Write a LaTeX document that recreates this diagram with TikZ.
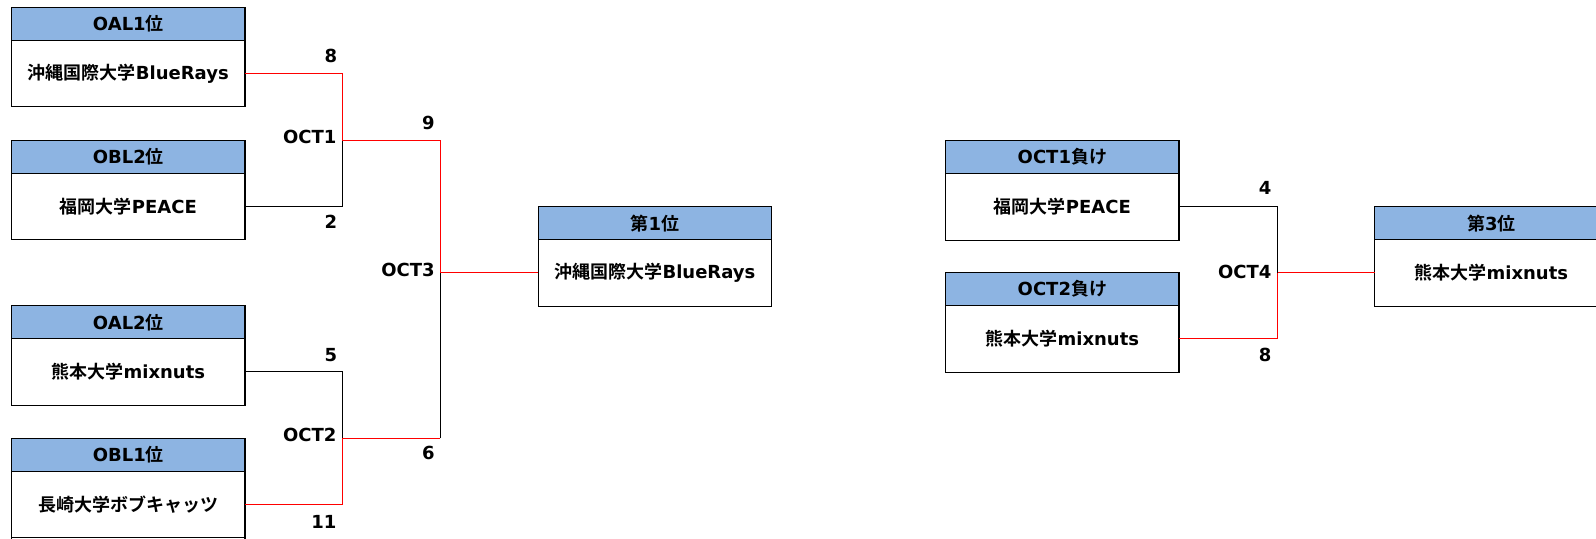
\documentclass[tikz,border=0pt]{standalone}
\usepackage{fontspec}
\setmainfont{DejaVu Sans}
\newfontfamily\jp{Noto Sans CJK JP}[BoldFont={Noto Sans CJK JP Bold}]
\definecolor{hdrblue}{HTML}{8DB4E2}
\begin{document}
\begin{tikzpicture}[x=0.75pt,y=-0.75pt,
  font=\fontsize{13.5}{16}\selectfont\bfseries,
  hdr/.style={draw,line width=0.9pt,fill=hdrblue,minimum width=175pt,minimum height=24.75pt,inner sep=0pt,outer sep=0pt,anchor=north west},
  bdy/.style={draw,line width=0.9pt,fill=white,minimum width=175pt,minimum height=49.8pt,inner sep=0pt,outer sep=0pt,anchor=north},
  ln/.style={line width=0.75pt,draw=black},
  win/.style={line width=0.75pt,draw=red},
  lbl/.style={anchor=east,inner sep=0pt}]
\clip (0,0) rectangle (1596,539);
\fill[white] (0,0) rectangle (1596,539);
% boxes
\node[hdr] (h1) at (11.7,7.3) {OAL1{\jp 位}};
\node[bdy] (b1) at (h1.south) {{\jp 沖縄国際大学}BlueRays};
\node[hdr] (h2) at (11.7,140.3) {OBL2{\jp 位}};
\node[bdy] (b2) at (h2.south) {{\jp 福岡大学}PEACE};
\node[hdr] (h3) at (11.7,305.7) {OAL2{\jp 位}};
\node[bdy] (b3) at (h3.south) {{\jp 熊本大学}mixnuts};
\node[hdr] (h4) at (11.7,438.5) {OBL1{\jp 位}};
\node[bdy] (b4) at (h4.south) {{\jp 長崎大学ボブキャッツ}};
\node[hdr] (h5) at (538.3,206.7) {{\jp 第}1{\jp 位}};
\node[bdy] (b5) at (h5.south) {{\jp 沖縄国際大学}BlueRays};
\node[hdr] (h6) at (945.7,140.7) {OCT1{\jp 負け}};
\node[bdy] (b6) at (h6.south) {{\jp 福岡大学}PEACE};
\node[hdr] (h7) at (945.7,272.7) {OCT2{\jp 負け}};
\node[bdy] (b7) at (h7.south) {{\jp 熊本大学}mixnuts};
\node[hdr] (h8) at (1374.7,206.7) {{\jp 第}3{\jp 位}};
\node[bdy] (b8) at (h8.south) {{\jp 熊本大学}mixnuts};
% junctions
\coordinate (j1) at (342.3,140);
\coordinate (j2) at (342.3,438.3);
\coordinate (j3) at (440.3,272.9);
\coordinate (k2) at (440.3,438.3);
\coordinate (j4) at (1277.5,272.9);
% connectors
\draw[ln] (b2.east) -| (j1);
\draw[win] (b1.east) -| (j1);
\draw[ln] (b3.east) -| (j2);
\draw[win] (b4.east) ++(0,0) -| (j2);
\draw[ln] (k2) -- (j3);
\draw[win] (j2) -- (k2);
\draw[win] (j1) -| (j3);
\draw[win] (j3) -- (b5.west);
\draw[ln] (b6.east) -| (j4);
\draw[win] (b7.east) -| (j4);
\draw[win] (j4) -- (b8.west);
% hide bottom edge of the last box, which runs past the page
\fill[white] (0,537.6) rectangle (1596,539);
\draw[line width=0.9pt] (h4.west |- 0,537) -- (h4.west |- 0,539);
\draw[line width=0.9pt] (h4.east |- 0,537) -- (h4.east |- 0,539);
% labels
\node[lbl] (s1) at (337.3,56) {8};
\node[lbl] (s2) at (337.3,221.7) {2};
\node[lbl] (m1) at (336.7,136.7) {OCT1};
\node[lbl] (s3) at (435,122.7) {9};
\node[lbl] (s4) at (337.3,355) {5};
\node[lbl] (m2) at (336.7,435) {OCT2};
\node[lbl] (s5) at (435,453.3) {6};
\node[lbl] (s6) at (336.7,522.3) {11};
\node[lbl] (m3) at (435,270) {OCT3};
\node[lbl] (s7) at (1271.7,188.3) {4};
\node[lbl] (s8) at (1271.7,355) {8};
\node[lbl] (m4) at (1271.7,271.7) {OCT4};
\end{tikzpicture}
\end{document}
